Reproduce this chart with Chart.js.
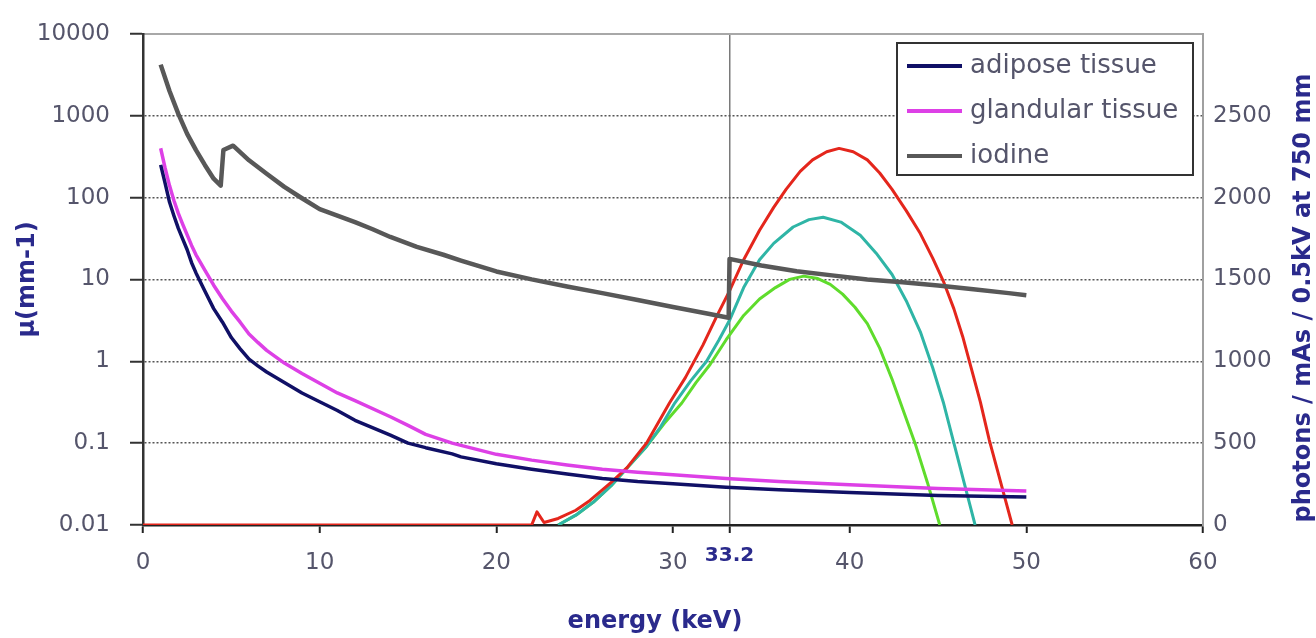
<!DOCTYPE html>
<html>
<head>
<meta charset="utf-8">
<script src="https://cdn.jsdelivr.net/npm/chart.js@4.4.1/dist/chart.umd.min.js"></script>
<style>
html,body{margin:0;padding:0;background:#fff;}
#wrap{width:1316px;height:638px;position:relative;}
</style>
</head>
<body>
<div id="wrap"><canvas id="grafiks"></canvas></div>
<script>
// energy axis ticks (keV), 33.2 = iodine K-edge
const xTicks = [0, 10, 20, 30, 33.2, 40, 50, 60];
const kEdge = 33.2;
const muTicks = [0.01, 0.1, 1, 10, 100, 1000, 10000];
const photonTicks = [0, 500, 1000, 1500, 2000, 2500, 3000];

// attenuation coefficients (mm-1)
const muEnergy = [1, 1.25, 1.5, 1.75, 2, 2.25, 2.5, 2.75, 3, 3.5, 4, 4.5, 5, 5.5, 6, 6.5, 7, 8, 9, 10, 11, 12, 14, 15, 16, 17.5, 18, 20, 22, 24, 26, 28, 30, 33, 36, 40, 45, 50];
const adipose = [250, 150, 88, 60, 42, 31, 23, 16, 12, 7.2, 4.4, 3.0, 1.95, 1.42, 1.06, 0.88, 0.74, 0.55, 0.41, 0.32, 0.25, 0.19, 0.125, 0.1, 0.088, 0.074, 0.068, 0.056, 0.048, 0.042, 0.037, 0.034, 0.032, 0.029, 0.027, 0.025, 0.023, 0.022];
const glandular = [400, 230, 140, 92, 64, 47, 35, 26, 20, 13, 8.5, 5.8, 4.1, 3.0, 2.15, 1.7, 1.36, 0.95, 0.71, 0.54, 0.41, 0.33, 0.21, 0.165, 0.128, 0.1, 0.094, 0.073, 0.062, 0.054, 0.048, 0.044, 0.041, 0.037, 0.034, 0.031, 0.028, 0.026];

const iodEnergy = [1, 1.5, 2, 2.5, 3, 3.5, 4, 4.4, 4.55, 5.1, 6, 7, 8, 9, 10, 11, 12, 13, 14, 15.5, 17, 18, 20, 22, 24, 26, 28, 30, 32, 33.15, 33.2, 35, 37, 39, 41, 43, 45, 47, 49, 50];
const iodine = [4200, 2000, 1050, 600, 380, 250, 170, 140, 380, 430, 285, 195, 135, 98, 72, 60, 50, 41, 33, 25, 20, 17, 12.5, 10, 8.2, 6.8, 5.6, 4.6, 3.8, 3.4, 17.8, 14.8, 12.6, 11.2, 10, 9.2, 8.4, 7.6, 6.8, 6.4];

// spectra (photons / mAs / 0.5kV at 750 mm)
const sarkanaE = [0, 22, 22.3, 22.7, 23.5, 24.5, 25.3, 26.5, 27.4, 28.5, 29.8, 30.7, 31.7, 32.5, 33.2, 34, 34.9, 35.7, 36.4, 37.2, 37.9, 38.7, 39.4, 40.2, 41, 41.7, 42.4, 43.2, 44, 44.7, 45.3, 45.9, 46.4, 46.9, 47.4, 47.9, 48.4, 48.8, 49.2];
const sarkana = [0, 0, 80, 15, 40, 90, 150, 260, 350, 500, 745, 900, 1100, 1280, 1430, 1620, 1800, 1940, 2050, 2160, 2230, 2280, 2300, 2280, 2230, 2150, 2050, 1920, 1780, 1630, 1490, 1320, 1150, 950, 750, 520, 320, 160, 0];
const tirkizaE = [23.5, 24.5, 25.5, 26.5, 27.5, 28.5, 29.3, 30.1, 31, 31.9, 32.6, 33.2, 34, 34.9, 35.7, 36.8, 37.7, 38.5, 39.5, 40.6, 41.5, 42.4, 43.2, 44, 44.7, 45.3, 45.9, 46.5, 47.1];
const tirkiza = [0, 60, 140, 240, 360, 480, 600, 745, 880, 1000, 1130, 1250, 1450, 1620, 1720, 1820, 1865, 1880, 1850, 1770, 1660, 1530, 1370, 1180, 960, 750, 500, 250, 0];
const zalaE = [23.5, 24.5, 25.5, 26.5, 27.5, 28.5, 29.5, 30.5, 31.3, 32.1, 33, 34, 34.9, 35.8, 36.6, 37.4, 38.2, 38.9, 39.6, 40.3, 41, 41.7, 42.4, 43.1, 43.7, 44.4, 45.1];
const zala = [0, 60, 140, 240, 360, 480, 620, 745, 870, 980, 1130, 1280, 1380, 1450, 1500, 1520, 1505, 1470, 1410, 1330, 1230, 1080, 890, 680, 500, 260, 0];

const punkti = (xs, ys) => xs.map((x, i) => ({x: x, y: ys[i]}));

const tekstaKrasa = '#55556b';
const virsrakstaKrasa = '#2a2a8c';

// legend box inside the plot + axis titles that Chart.js can't place this way
const legendaPlugin = {
    id: 'legenda',
    afterDatasetsDraw(chart) {
        const ctx = chart.ctx;
        const x0 = 897, y0 = 43, w = 296, h = 132;
        ctx.save();
        ctx.fillStyle = '#fff';
        ctx.fillRect(x0, y0, w, h);
        ctx.strokeStyle = '#333';
        ctx.lineWidth = 2;
        ctx.strokeRect(x0, y0, w, h);
        ctx.font = '26px "DejaVu Sans"';
        ctx.textBaseline = 'middle';
        chart.data.datasets.slice(0, 3).forEach((ds, i) => {
            const y = y0 + 23 + i * 45;
            ctx.strokeStyle = ds.borderColor;
            ctx.lineWidth = 4;
            ctx.beginPath();
            ctx.moveTo(x0 + 10, y);
            ctx.lineTo(x0 + 65, y);
            ctx.stroke();
            ctx.fillStyle = tekstaKrasa;
            ctx.fillText(ds.label, x0 + 73, y);
        });
        ctx.restore();
    },
    afterDraw(chart) {
        const ctx = chart.ctx;
        const sx = chart.scales.x;
        ctx.save();
        ctx.fillStyle = virsrakstaKrasa;
        ctx.textAlign = 'center';
        ctx.textBaseline = 'middle';
        ctx.font = 'bold 20px "DejaVu Sans"';
        ctx.fillText(String(kEdge), sx.getPixelForValue(kEdge), 556);
        ctx.font = 'bold 24px "DejaVu Sans"';
        ctx.fillText('energy (keV)', 655, 622);
        ctx.translate(1304, 298);
        ctx.rotate(-Math.PI / 2);
        ctx.fillText('photons / mAs / 0.5kV at 750 mm', 0, 0);
        ctx.restore();
    }
};

const ctx = document.getElementById('grafiks').getContext('2d');
new Chart(ctx, {
    type: 'line',
    data: {
        datasets: [
            {label: 'adipose tissue', data: punkti(muEnergy, adipose), yAxisID: 'y', borderColor: '#101066', borderWidth: 3.5},
            {label: 'glandular tissue', data: punkti(muEnergy, glandular), yAxisID: 'y', borderColor: '#dd40e6', borderWidth: 3.5},
            {label: 'iodine', data: punkti(iodEnergy, iodine), yAxisID: 'y', borderColor: '#585858', borderWidth: 4.5},
            {label: 'spectrum 1', data: punkti(sarkanaE, sarkana), yAxisID: 'y2', borderColor: '#e4261c', borderWidth: 3},
            {label: 'spectrum 2', data: punkti(tirkizaE, tirkiza), yAxisID: 'y2', borderColor: '#2fb5a6', borderWidth: 3},
            {label: 'spectrum 3', data: punkti(zalaE, zala), yAxisID: 'y2', borderColor: '#5fdc2c', borderWidth: 3}
        ]
    },
    options: {
        responsive: true,
        maintainAspectRatio: false,
        animation: false,
        layout: {padding: {top: 22, left: 0, right: 0, bottom: 0}},
        elements: {point: {radius: 0}, line: {tension: 0, borderJoinStyle: 'round'}},
        plugins: {legend: {display: false}, tooltip: {enabled: false}},
        scales: {
            x: {
                type: 'linear', position: 'bottom', min: 0, max: 60,
                afterBuildTicks: s => { s.ticks = xTicks.map(v => ({value: v})); },
                afterFit: s => { s.height = 113; },
                ticks: {
                    autoSkip: false, maxRotation: 0, padding: 16, color: tekstaKrasa,
                    font: {family: 'DejaVu Sans', size: 23},
                    callback: v => v === kEdge ? '' : String(v)
                },
                grid: {
                    color: c => c.tick && c.tick.value === kEdge ? '#7a7a7a' : 'rgba(0,0,0,0)',
                    lineWidth: 1.5, tickLength: 8, tickColor: '#222', tickWidth: 2
                },
                border: {color: '#222', width: 2.5}
            },
            xTop: {
                type: 'linear', position: 'top', min: 0, max: 60,
                ticks: {display: false}, grid: {display: false},
                border: {color: '#a8a8a8', width: 2},
                afterFit: s => { s.height = 0; }
            },
            y: {
                type: 'logarithmic', position: 'left', min: 0.01, max: 10000,
                afterBuildTicks: s => { s.ticks = muTicks.map(v => ({value: v})); },
                afterFit: s => { s.width = 143; },
                ticks: {
                    autoSkip: false, padding: 20, color: tekstaKrasa,
                    font: {family: 'DejaVu Sans', size: 23},
                    callback: v => String(v)
                },
                grid: {
                    color: c => c.tick && (c.tick.value === 0.01 || c.tick.value === 10000) ? 'rgba(0,0,0,0)' : '#555',
                    lineWidth: 1.5, borderDash: [2, 2], tickLength: 13, tickColor: '#333', tickWidth: 2
                },
                border: {color: '#333', width: 2.5, dash: [2, 2]},
                title: {display: true, text: 'μ(mm-1)', color: virsrakstaKrasa,
                    font: {family: 'DejaVu Sans', size: 24, weight: 'bold', lineHeight: 1}, padding: {top: 16, bottom: 0}}
            },
            y2: {
                type: 'linear', position: 'right', min: 0, max: 3000,
                afterBuildTicks: s => { s.ticks = photonTicks.map(v => ({value: v})); },
                afterFit: s => { s.width = 113; },
                ticks: {
                    autoSkip: false, padding: 10, color: tekstaKrasa,
                    font: {family: 'DejaVu Sans', size: 23},
                    callback: v => v === 3000 ? '' : String(v)
                },
                grid: {drawOnChartArea: false, drawTicks: false},
                border: {color: '#a0a0a0', width: 2}
            }
        }
    },
    plugins: [legendaPlugin]
});
</script>
</body>
</html>
